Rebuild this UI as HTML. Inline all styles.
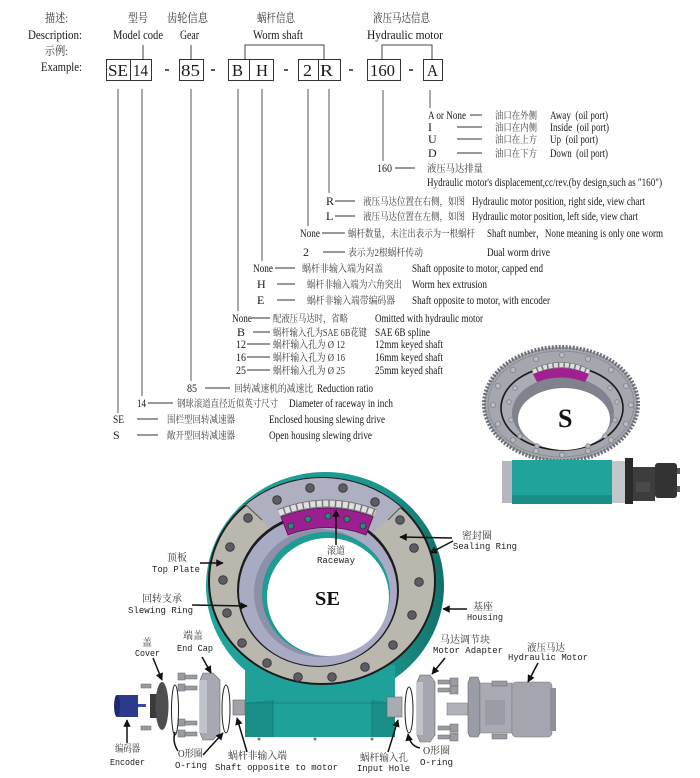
<!DOCTYPE html>
<html><head><meta charset="utf-8"><style>
html,body{margin:0;padding:0;background:#fff;}
svg{display:block;}
.e{font-family:"Liberation Serif","Noto Serif CJK SC",serif;font-size:12px;fill:#1a1a1a;}
.c{font-family:"Liberation Serif","Noto Serif CJK SC",serif;font-size:10px;fill:#3a3a3a;}
.h{font-family:"Liberation Serif","Noto Serif CJK SC",serif;font-size:13px;fill:#1a1a1a;}
.hc{font-family:"Liberation Serif","Noto Serif CJK SC",serif;font-size:12px;fill:#333;}
.bx{font-family:"Liberation Serif",serif;font-size:17px;fill:#1a1a1a;}
.m{font-family:"Liberation Mono",monospace;font-size:9px;fill:#222;}
.mc{font-family:"Liberation Serif","Noto Serif CJK SC",serif;font-size:10px;fill:#333;}
</style></head><body>
<svg width="700" height="778" viewBox="0 0 700 778" xmlns="http://www.w3.org/2000/svg">
<defs>
<linearGradient id="tg" x1="0" x2="1" y1="0" y2="0">
<stop offset="0" stop-color="#22a59c"/><stop offset="0.75" stop-color="#1b958d"/><stop offset="1" stop-color="#12716a"/>
</linearGradient>
<clipPath id="plate"><ellipse cx="322" cy="581" rx="113" ry="103"/></clipPath>
<marker id="ah" viewBox="0 0 10 10" refX="9" refY="5" markerWidth="5.5" markerHeight="5" orient="auto"><path d="M0,0L10,5L0,10z" fill="#111"/></marker>
</defs>

<!-- ===== HEADER ===== -->
<text class="hc" x="45" y="22" textLength="23" lengthAdjust="spacingAndGlyphs">描述:</text>
<text class="h" x="28" y="39" textLength="54" lengthAdjust="spacingAndGlyphs">Description:</text>
<text class="hc" x="45" y="55" textLength="23" lengthAdjust="spacingAndGlyphs">示例:</text>
<text class="h" x="41" y="71" textLength="41" lengthAdjust="spacingAndGlyphs">Example:</text>

<text class="hc" x="128" y="22" textLength="20" lengthAdjust="spacingAndGlyphs">型号</text>
<text class="hc" x="167" y="22" textLength="41" lengthAdjust="spacingAndGlyphs">齿轮信息</text>
<text class="hc" x="257" y="22" textLength="38" lengthAdjust="spacingAndGlyphs">蜗杆信息</text>
<text class="hc" x="373" y="22" textLength="57" lengthAdjust="spacingAndGlyphs">液压马达信息</text>

<text class="h" x="113" y="39" textLength="50" lengthAdjust="spacingAndGlyphs">Model code</text>
<text class="h" x="180" y="39" textLength="19" lengthAdjust="spacingAndGlyphs">Gear</text>
<text class="h" x="253" y="39" textLength="50" lengthAdjust="spacingAndGlyphs">Worm shaft</text>
<text class="h" x="367" y="39" textLength="76" lengthAdjust="spacingAndGlyphs">Hydraulic motor</text>

<g stroke="#444" stroke-width="1" fill="none">
<path d="M143,45V59M191,45V59M245,59V45H324V59M382,59V45H432V59"/>
</g>
<g stroke="#333" stroke-width="1" fill="none">
<rect x="106.5" y="59.5" width="24" height="21"/>
<rect x="130.5" y="59.5" width="21" height="21"/>
<rect x="179.5" y="59.5" width="24" height="21"/>
<rect x="228.5" y="59.5" width="21" height="21"/>
<rect x="249.5" y="59.5" width="24" height="21"/>
<rect x="298.5" y="59.5" width="20" height="21"/>
<rect x="318.5" y="59.5" width="22" height="21"/>
<rect x="367.5" y="59.5" width="33" height="21"/>
<rect x="423.5" y="59.5" width="19" height="21"/>
</g>
<text class="bx" x="108" y="76" textLength="20" lengthAdjust="spacingAndGlyphs">SE</text>
<text class="bx" x="133" y="76" textLength="15" lengthAdjust="spacingAndGlyphs">14</text>
<text class="bx" x="181" y="76" textLength="19" lengthAdjust="spacingAndGlyphs">85</text>
<text class="bx" x="232" y="76" textLength="11" lengthAdjust="spacingAndGlyphs">B</text>
<text class="bx" x="256" y="76" textLength="12" lengthAdjust="spacingAndGlyphs">H</text>
<text class="bx" x="303" y="76" textLength="9" lengthAdjust="spacingAndGlyphs">2</text>
<text class="bx" x="320" y="76" textLength="13" lengthAdjust="spacingAndGlyphs">R</text>
<text class="bx" x="370" y="76" textLength="25" lengthAdjust="spacingAndGlyphs">160</text>
<text class="bx" x="427" y="76" textLength="11" lengthAdjust="spacingAndGlyphs">A</text>
<g stroke="#222" stroke-width="1.5">
<path d="M165,70H169M211,70H215M284,70H288M349,70H353M409,70H413"/>
</g>

<!-- vertical lines -->
<g stroke="#555" stroke-width="1">
<path d="M118,89V413M142,89V396M191,89V381M238,89V311M262,89V261M308,89V226M329,89V193M383,90V161M430,90V108"/>
</g>

<!-- dash lines -->
<g stroke="#333" stroke-width="1">
<path d="M470,115H482M457,127H482M457,139H482M457,153H482M395,168H415
M335,201H355M335,216H355M322,233H345M323,252H345
M275,268H295M277,284H295M277,300H295
M252,318H270M253,332H270M247,344H270M247,357H270M247,370H270
M205,388H230M148,403H173M137,419H158M137,435H158"/>
</g>

<!-- motor rows -->
<text class="e" x="428" y="119" textLength="38" lengthAdjust="spacingAndGlyphs">A or None</text>
<text class="c" x="495" y="119" textLength="42" lengthAdjust="spacingAndGlyphs">油口在外侧</text>
<text class="e" x="550" y="119" textLength="58" lengthAdjust="spacingAndGlyphs">Away&#160; (oil port)</text>
<text class="e" x="428" y="131">I</text>
<text class="c" x="495" y="131" textLength="42" lengthAdjust="spacingAndGlyphs">油口在内侧</text>
<text class="e" x="550" y="131" textLength="59" lengthAdjust="spacingAndGlyphs">Inside&#160; (oil port)</text>
<text class="e" x="428" y="143">U</text>
<text class="c" x="495" y="143" textLength="42" lengthAdjust="spacingAndGlyphs">油口在上方</text>
<text class="e" x="550" y="143" textLength="48" lengthAdjust="spacingAndGlyphs">Up&#160; (oil port)</text>
<text class="e" x="428" y="157">D</text>
<text class="c" x="495" y="157" textLength="42" lengthAdjust="spacingAndGlyphs">油口在下方</text>
<text class="e" x="550" y="157" textLength="58" lengthAdjust="spacingAndGlyphs">Down&#160; (oil port)</text>
<text class="e" x="377" y="172" textLength="15" lengthAdjust="spacingAndGlyphs">160</text>
<text class="c" x="427" y="172" textLength="56" lengthAdjust="spacingAndGlyphs">液压马达排量</text>
<text class="e" x="427" y="186" textLength="235" lengthAdjust="spacingAndGlyphs">Hydraulic motor's displacement,cc/rev.(by design,such as &quot;160&quot;)</text>

<!-- R / L / worm count -->
<text class="e" x="326" y="205">R</text>
<text class="c" x="363" y="205" textLength="102" lengthAdjust="spacingAndGlyphs">液压马达位置在右侧，如图</text>
<text class="e" x="472" y="205" textLength="173" lengthAdjust="spacingAndGlyphs">Hydraulic motor position, right side, view chart</text>
<text class="e" x="326" y="220">L</text>
<text class="c" x="363" y="220" textLength="102" lengthAdjust="spacingAndGlyphs">液压马达位置在左侧，如图</text>
<text class="e" x="472" y="220" textLength="166" lengthAdjust="spacingAndGlyphs">Hydraulic motor position, left side, view chart</text>
<text class="e" x="300" y="237" textLength="20" lengthAdjust="spacingAndGlyphs">None</text>
<text class="c" x="348" y="237" textLength="127" lengthAdjust="spacingAndGlyphs">蜗杆数量，未注出表示为一根蜗杆</text>
<text class="e" x="487" y="237" textLength="176" lengthAdjust="spacingAndGlyphs">Shaft number，None meaning is only one worm</text>
<text class="e" x="303" y="256">2</text>
<text class="c" x="348" y="256" textLength="75" lengthAdjust="spacingAndGlyphs">表示为2根蜗杆传动</text>
<text class="e" x="487" y="256" textLength="63" lengthAdjust="spacingAndGlyphs">Dual worm drive</text>

<!-- non-input end -->
<text class="e" x="253" y="272" textLength="20" lengthAdjust="spacingAndGlyphs">None</text>
<text class="c" x="302" y="272" textLength="81" lengthAdjust="spacingAndGlyphs">蜗杆非输入端为闷盖</text>
<text class="e" x="412" y="272" textLength="131" lengthAdjust="spacingAndGlyphs">Shaft opposite to motor, capped end</text>
<text class="e" x="257" y="288">H</text>
<text class="c" x="307" y="288" textLength="95" lengthAdjust="spacingAndGlyphs">蜗杆非输入端为六角突出</text>
<text class="e" x="412" y="288" textLength="75" lengthAdjust="spacingAndGlyphs">Worm hex extrusion</text>
<text class="e" x="257" y="304">E</text>
<text class="c" x="307" y="304" textLength="88" lengthAdjust="spacingAndGlyphs">蜗杆非输入端带编码器</text>
<text class="e" x="412" y="304" textLength="138" lengthAdjust="spacingAndGlyphs">Shaft opposite to motor, with encoder</text>

<!-- input end -->
<text class="e" x="232" y="322" textLength="20" lengthAdjust="spacingAndGlyphs">None</text>
<text class="c" x="273" y="322" textLength="75" lengthAdjust="spacingAndGlyphs">配液压马达时，省略</text>
<text class="e" x="375" y="322" textLength="108" lengthAdjust="spacingAndGlyphs">Omitted with hydraulic motor</text>
<text class="e" x="237" y="336">B</text>
<text class="c" x="273" y="336" textLength="94" lengthAdjust="spacingAndGlyphs">蜗杆输入孔为SAE 6B花键</text>
<text class="e" x="375" y="336" textLength="55" lengthAdjust="spacingAndGlyphs">SAE 6B spline</text>
<text class="e" x="236" y="348" textLength="10" lengthAdjust="spacingAndGlyphs">12</text>
<text class="c" x="273" y="348" textLength="72" lengthAdjust="spacingAndGlyphs">蜗杆输入孔为 Ø 12</text>
<text class="e" x="375" y="348" textLength="68" lengthAdjust="spacingAndGlyphs">12mm keyed shaft</text>
<text class="e" x="236" y="361" textLength="10" lengthAdjust="spacingAndGlyphs">16</text>
<text class="c" x="273" y="361" textLength="72" lengthAdjust="spacingAndGlyphs">蜗杆输入孔为 Ø 16</text>
<text class="e" x="375" y="361" textLength="68" lengthAdjust="spacingAndGlyphs">16mm keyed shaft</text>
<text class="e" x="236" y="374" textLength="10" lengthAdjust="spacingAndGlyphs">25</text>
<text class="c" x="273" y="374" textLength="72" lengthAdjust="spacingAndGlyphs">蜗杆输入孔为 Ø 25</text>
<text class="e" x="375" y="374" textLength="68" lengthAdjust="spacingAndGlyphs">25mm keyed shaft</text>

<text class="e" x="187" y="392" textLength="10" lengthAdjust="spacingAndGlyphs">85</text>
<text class="c" x="234" y="392" textLength="79" lengthAdjust="spacingAndGlyphs">回转减速机的减速比</text>
<text class="e" x="317" y="392" textLength="56" lengthAdjust="spacingAndGlyphs">Reduction ratio</text>
<text class="e" x="137" y="407" textLength="9" lengthAdjust="spacingAndGlyphs">14</text>
<text class="c" x="177" y="407" textLength="101" lengthAdjust="spacingAndGlyphs">钢球滚道直径近似英寸尺寸</text>
<text class="e" x="289" y="407" textLength="104" lengthAdjust="spacingAndGlyphs">Diameter of raceway in inch</text>
<text class="e" x="113" y="423" textLength="11" lengthAdjust="spacingAndGlyphs">SE</text>
<text class="c" x="167" y="423" textLength="68" lengthAdjust="spacingAndGlyphs">围栏型回转减速器</text>
<text class="e" x="269" y="423" textLength="116" lengthAdjust="spacingAndGlyphs">Enclosed housing slewing drive</text>
<text class="e" x="113" y="439">S</text>
<text class="c" x="167" y="439" textLength="68" lengthAdjust="spacingAndGlyphs">敞开型回转减速器</text>
<text class="e" x="269" y="439" textLength="103" lengthAdjust="spacingAndGlyphs">Open housing slewing drive</text>

<!-- ===== S small image ===== -->
<ellipse cx="561" cy="404" rx="77" ry="57" fill="#a4a7ae" stroke="#6d7078" stroke-width="4" stroke-dasharray="2 1.5"/>
<ellipse cx="561" cy="404" rx="73" ry="53" fill="none" stroke="#8a8d95" stroke-width="1"/>
<g fill="#b9bbc0" stroke="#80838a" stroke-width="0.8">
<circle cx="631" cy="405" r="2.6"/><circle cx="626" cy="424" r="2.6"/><circle cx="611" cy="440" r="2.6"/><circle cx="588" cy="451" r="2.6"/>
<circle cx="562" cy="455" r="2.6"/><circle cx="536" cy="451" r="2.6"/><circle cx="513" cy="440" r="2.6"/><circle cx="498" cy="424" r="2.6"/>
<circle cx="493" cy="405" r="2.6"/><circle cx="498" cy="386" r="2.6"/><circle cx="513" cy="370" r="2.6"/><circle cx="536" cy="359" r="2.6"/>
<circle cx="562" cy="355" r="2.6"/><circle cx="588" cy="359" r="2.6"/><circle cx="611" cy="370" r="2.6"/><circle cx="626" cy="386" r="2.6"/>
</g>
<ellipse cx="562" cy="408" rx="61" ry="42" fill="#a9acb5" stroke="#1a1a1a" stroke-width="1.6"/>
<ellipse cx="563" cy="413" rx="51" ry="36" fill="#80838d"/>
<ellipse cx="564" cy="419" rx="46" ry="31" fill="#fff"/>
<path d="M533,372 Q561,358 589,372" fill="none" stroke="#777" stroke-width="6"/>
<path d="M533,372 Q561,358 589,372" fill="none" stroke="#dedede" stroke-width="4.5" stroke-dasharray="4 1.5"/>
<path d="M533,374 Q561,362 589,374 L585,382 Q561,373 537,382 Z" fill="#a0208f"/>
<g fill="#b9bbc0" stroke="#80838a" stroke-width="0.8">
<circle cx="509" cy="402" r="2.3"/><circle cx="511" cy="420" r="2.3"/><circle cx="520" cy="436" r="2.3"/><circle cx="537" cy="446" r="2.3"/>
<circle cx="588" cy="446" r="2.3"/><circle cx="605" cy="436" r="2.3"/><circle cx="615" cy="420" r="2.3"/><circle cx="617" cy="402" r="2.3"/>
<circle cx="610" cy="388" r="2.3"/><circle cx="515" cy="388" r="2.3"/>
</g>
<text x="558" y="427" font-family="Liberation Serif" font-weight="bold" font-size="26" fill="#111">S</text>
<!-- S base -->
<rect x="502" y="461" width="10" height="42" fill="#b4b7bd"/>
<rect x="512" y="460" width="100" height="44" fill="#1fa39a"/>
<rect x="512" y="495" width="100" height="9" fill="#1a8d85"/>
<rect x="612" y="461" width="13" height="42" fill="#c3c6cb"/>
<rect x="625" y="458" width="8" height="46" fill="#2a2a2a"/>
<rect x="633" y="467" width="22" height="34" fill="#3d3d3d"/>
<rect x="655" y="463" width="22" height="35" rx="3" fill="#333"/>
<rect x="677" y="468" width="3" height="6" fill="#555"/><rect x="677" y="486" width="3" height="6" fill="#555"/>
<rect x="636" y="482" width="14" height="10" fill="#4a4a4a"/>

<!-- ===== SE big image ===== -->
<ellipse cx="325" cy="586" rx="119" ry="114" fill="url(#tg)"/>
<rect x="245" y="665" width="150" height="72" fill="#1fa098"/>
<polygon points="245,703 273,700 273,737 245,737" fill="#1a8f87"/>
<polygon points="372,700 395,703 395,737 372,737" fill="#1a8f87"/>
<path d="M273,700V737M372,700V737M245,703H395" stroke="#137a73" stroke-width="0.8" fill="none"/>
<g fill="#777"><circle cx="259" cy="739" r="1.5"/><circle cx="315" cy="739" r="1.5"/><circle cx="372" cy="739" r="1.5"/></g>
<ellipse cx="322" cy="581" rx="113" ry="103" fill="#bab7af" stroke="#1c1c1c" stroke-width="2"/>
<polygon clip-path="url(#plate)" points="322,581 200,459 200,440 450,440 440,470" fill="#aeafc0"/>
<line x1="244" y1="503" x2="262" y2="520" stroke="#555"/>
<line x1="403" y1="505" x2="388" y2="520" stroke="#555"/>
<ellipse cx="318" cy="590" rx="81" ry="77" fill="#1c1c1c"/>
<ellipse cx="318" cy="591" rx="79" ry="75" fill="#a9aac4"/>
<ellipse cx="320" cy="593" rx="66" ry="64" fill="#8e90aa"/>
<ellipse cx="326" cy="594" rx="64" ry="62" fill="#1f9c94"/>
<ellipse cx="328" cy="597" rx="61" ry="59" fill="#fff"/>
<path d="M279,513 Q327,494 375,513" fill="none" stroke="#777" stroke-width="8"/>
<path d="M279,513 Q327,494 375,513" fill="none" stroke="#e0e0e0" stroke-width="6" stroke-dasharray="5 1.5"/>
<path d="M281,517 Q327,499 373,517 L366,535 Q327,520 288,535 Z" fill="#9b1f8e" stroke="#5a1050" stroke-width="0.8"/>
<g fill="#2a8a80" stroke="#333" stroke-width="0.8">
<circle cx="291" cy="526" r="3"/><circle cx="308" cy="519" r="3"/><circle cx="328" cy="516" r="3"/><circle cx="347" cy="519" r="3"/><circle cx="363" cy="526" r="3"/>
</g>
<g fill="#5b5d63" stroke="#3a3b40" stroke-width="1">
<circle cx="277" cy="500" r="4.3"/><circle cx="310" cy="488" r="4.3"/><circle cx="343" cy="488" r="4.3"/><circle cx="375" cy="502" r="4.3"/>
<circle cx="248" cy="518" r="4.3"/><circle cx="230" cy="547" r="4.3"/><circle cx="223" cy="580" r="4.3"/><circle cx="227" cy="613" r="4.3"/>
<circle cx="242" cy="643" r="4.3"/><circle cx="267" cy="663" r="4.3"/><circle cx="298" cy="677" r="4.3"/><circle cx="332" cy="677" r="4.3"/>
<circle cx="365" cy="667" r="4.3"/><circle cx="393" cy="645" r="4.3"/><circle cx="412" cy="615" r="4.3"/><circle cx="419" cy="582" r="4.3"/>
<circle cx="414" cy="548" r="4.3"/><circle cx="400" cy="520" r="4.3"/>
</g>
<text x="315" y="605" font-family="Liberation Serif" font-weight="bold" font-size="20" fill="#111" textLength="25" lengthAdjust="spacingAndGlyphs">SE</text>

<!-- left exploded parts -->
<rect x="233" y="700" width="12" height="15" fill="#9fa2aa" stroke="#666" stroke-width="0.6"/>
<ellipse cx="226" cy="709" rx="4" ry="24" fill="none" stroke="#222" stroke-width="1"/>
<polygon points="203,673 213,673 220,680 220,733 213,740 203,740 200,733 200,680" fill="#a6a9b2" stroke="#666" stroke-width="0.6"/>
<rect x="200" y="680" width="7" height="53" fill="#c0c3ca"/>
<g fill="#9a9ca4" stroke="#666" stroke-width="0.5">
<rect x="178" y="673" width="7" height="7"/><rect x="185" y="675" width="12" height="4"/>
<rect x="178" y="684" width="7" height="7"/><rect x="185" y="686" width="12" height="4"/>
<rect x="178" y="719" width="7" height="7"/><rect x="185" y="721" width="12" height="4"/>
<rect x="178" y="730" width="7" height="7"/><rect x="185" y="732" width="12" height="4"/>
<rect x="141" y="684" width="10" height="4"/><rect x="141" y="726" width="10" height="4"/>
</g>
<ellipse cx="175" cy="710" rx="3.5" ry="25" fill="none" stroke="#222" stroke-width="1"/>
<rect x="150" y="694" width="7" height="24" fill="#3a3a3a"/>
<ellipse cx="162" cy="706" rx="6.5" ry="24" fill="#4e4e4e"/>
<rect x="117" y="695" width="21" height="22" fill="#2d3b8e"/>
<ellipse cx="117" cy="706" rx="3" ry="11" fill="#1f2a6e"/>
<rect x="138" y="704" width="8" height="3" fill="#3c4ca0"/>

<!-- right exploded parts -->
<rect x="387" y="697" width="15" height="20" fill="#a9abb3" stroke="#666" stroke-width="0.6"/>
<ellipse cx="409" cy="710" rx="4" ry="23" fill="none" stroke="#222" stroke-width="1"/>
<polygon points="420,675 430,675 435,682 435,735 430,742 420,742 417,735 417,682" fill="#a4a7b0" stroke="#666" stroke-width="0.6"/>
<rect x="417" y="682" width="6" height="53" fill="#c0c3ca"/>
<g fill="#9a9ca4" stroke="#666" stroke-width="0.5">
<rect x="438" y="680" width="12" height="4"/><rect x="450" y="678" width="8" height="8"/>
<rect x="438" y="688" width="12" height="4"/><rect x="450" y="686" width="8" height="8"/>
<rect x="438" y="726" width="12" height="4"/><rect x="450" y="724" width="8" height="8"/>
<rect x="438" y="735" width="12" height="4"/><rect x="450" y="733" width="8" height="8"/>
</g>
<rect x="447" y="703" width="21" height="12" fill="#b0b2ba" stroke="#777" stroke-width="0.5"/>
<polygon points="470,677 478,677 480,683 480,733 478,737 470,737 468,733 468,683" fill="#9a9da6" stroke="#666" stroke-width="0.6"/>
<rect x="480" y="683" width="32" height="50" fill="#a8abb4" stroke="#777" stroke-width="0.5"/>
<rect x="485" y="700" width="20" height="25" fill="#9a9da6"/>
<rect x="512" y="682" width="40" height="55" rx="4" fill="#a3a6af" stroke="#777" stroke-width="0.5"/>
<rect x="550" y="688" width="6" height="43" fill="#8e919a"/>
<g fill="#9a9ca4" stroke="#666" stroke-width="0.5">
<rect x="492" y="681" width="15" height="5"/><rect x="492" y="734" width="15" height="5"/>
</g>

<!-- lower labels -->
<text class="mc" x="462" y="539" textLength="30" lengthAdjust="spacingAndGlyphs">密封圈</text>
<text class="m" x="453" y="549" textLength="64" lengthAdjust="spacingAndGlyphs">Sealing Ring</text>
<text class="mc" x="327" y="554" textLength="18" lengthAdjust="spacingAndGlyphs">滚道</text>
<text class="m" x="317" y="563" textLength="38" lengthAdjust="spacingAndGlyphs">Raceway</text>
<text class="mc" x="167" y="561" textLength="20" lengthAdjust="spacingAndGlyphs">顶板</text>
<text class="m" x="152" y="572" textLength="48" lengthAdjust="spacingAndGlyphs">Top Plate</text>
<text class="mc" x="142" y="602" textLength="40" lengthAdjust="spacingAndGlyphs">回转支承</text>
<text class="m" x="128" y="613" textLength="65" lengthAdjust="spacingAndGlyphs">Slewing Ring</text>
<text class="mc" x="473" y="610" textLength="20" lengthAdjust="spacingAndGlyphs">基座</text>
<text class="m" x="467" y="620" textLength="36" lengthAdjust="spacingAndGlyphs">Housing</text>
<text class="mc" x="440" y="643" textLength="50" lengthAdjust="spacingAndGlyphs">马达调节块</text>
<text class="m" x="433" y="653" textLength="70" lengthAdjust="spacingAndGlyphs">Motor Adapter</text>
<text class="mc" x="527" y="651" textLength="38" lengthAdjust="spacingAndGlyphs">液压马达</text>
<text class="m" x="508" y="660" textLength="80" lengthAdjust="spacingAndGlyphs">Hydraulic Motor</text>
<text class="mc" x="142" y="646">盖</text>
<text class="m" x="135" y="656" textLength="25" lengthAdjust="spacingAndGlyphs">Cover</text>
<text class="mc" x="183" y="639" textLength="20" lengthAdjust="spacingAndGlyphs">端盖</text>
<text class="m" x="177" y="651" textLength="36" lengthAdjust="spacingAndGlyphs">End Cap</text>
<text class="mc" x="115" y="752" textLength="25" lengthAdjust="spacingAndGlyphs">编码器</text>
<text class="m" x="110" y="765" textLength="35" lengthAdjust="spacingAndGlyphs">Encoder</text>
<text class="mc" x="178" y="757" textLength="25" lengthAdjust="spacingAndGlyphs">O形圈</text>
<text class="m" x="175" y="768" textLength="32" lengthAdjust="spacingAndGlyphs">O-ring</text>
<text class="mc" x="228" y="759" textLength="59" lengthAdjust="spacingAndGlyphs">蜗杆非输入端</text>
<text class="m" x="215" y="770" textLength="123" lengthAdjust="spacingAndGlyphs">Shaft opposite to motor</text>
<text class="mc" x="360" y="761" textLength="48" lengthAdjust="spacingAndGlyphs">蜗杆输入孔</text>
<text class="m" x="357" y="771" textLength="53" lengthAdjust="spacingAndGlyphs">Input Hole</text>
<text class="mc" x="423" y="754" textLength="27" lengthAdjust="spacingAndGlyphs">O形圈</text>
<text class="m" x="420" y="765" textLength="33" lengthAdjust="spacingAndGlyphs">O-ring</text>

<!-- arrows -->
<g stroke="#111" stroke-width="1.5" fill="none" marker-end="url(#ah)">
<line x1="452" y1="538" x2="400" y2="537"/>
<line x1="453" y1="541" x2="430" y2="553"/>
<line x1="336" y1="545" x2="336" y2="510"/>
<line x1="200" y1="563" x2="223" y2="563"/>
<line x1="192" y1="605" x2="247" y2="606"/>
<line x1="467" y1="609" x2="443" y2="609"/>
<line x1="445" y1="658" x2="432" y2="674"/>
<line x1="538" y1="663" x2="528" y2="682"/>
<line x1="153" y1="658" x2="162" y2="680"/>
<line x1="202" y1="657" x2="211" y2="673"/>
<line x1="127" y1="743" x2="127" y2="720"/>
<line x1="203" y1="755" x2="223" y2="733"/>
<line x1="247" y1="752" x2="237" y2="718"/>
<line x1="388" y1="752" x2="398" y2="720"/>
<path d="M420,748 Q410,746 408,734"/>
</g>
<path d="M178,751 Q172,742 175,732" stroke="#111" stroke-width="1.5" fill="none"/>
</svg>
</body></html>
